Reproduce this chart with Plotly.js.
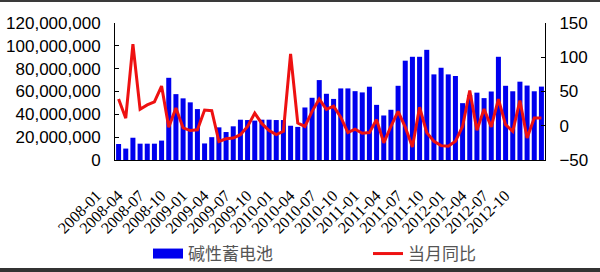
<!DOCTYPE html>
<html>
<head>
<meta charset="utf-8">
<script src="https://cdn.plot.ly/plotly-3.0.1.min.js"></script>
<style>
html,body{margin:0;padding:0;background:#fff;}
#wrap{position:relative;width:600px;height:272px;overflow:hidden;}
#chart{position:absolute;left:0;top:0;width:600px;height:272px;}
#bt{position:absolute;left:0;top:0;width:600px;height:2px;background:#3a3a3a;}
#bb{position:absolute;left:0;top:268px;width:600px;height:4px;background:#333;}
</style>
</head>
<body>
<div id="wrap"><div id="chart"></div><div id="bt"></div><div id="bb"></div></div>
<script>
var months = [
 "2008-01","2008-02","2008-03","2008-04","2008-05","2008-06","2008-07","2008-08","2008-09","2008-10","2008-11","2008-12",
 "2009-01","2009-02","2009-03","2009-04","2009-05","2009-06","2009-07","2009-08","2009-09","2009-10","2009-11","2009-12",
 "2010-01","2010-02","2010-03","2010-04","2010-05","2010-06","2010-07","2010-08","2010-09","2010-10","2010-11","2010-12",
 "2011-01","2011-02","2011-03","2011-04","2011-05","2011-06","2011-07","2011-08","2011-09","2011-10","2011-11","2011-12",
 "2012-01","2012-02","2012-03","2012-04","2012-05","2012-06","2012-07","2012-08","2012-09","2012-10","2012-11","2012-12"
];
var output = [
 14000000,10000000,19500000,14300000,14300000,14300000,17000000,72000000,57700000,54000000,50500000,44600000,
 14500000,20000000,28600000,24500000,29500000,35300000,35000000,34500000,35300000,35300000,35000000,35000000,
 30000000,29000000,46000000,54500000,70000000,58000000,53500000,62700000,62700000,60300000,59200000,64200000,
 48300000,39000000,44000000,65000000,87000000,90400000,90400000,96500000,75000000,80800000,75000000,73600000,
 49800000,57000000,59000000,54200000,60000000,90400000,65000000,60200000,68600000,65200000,60200000,64300000
];
var yoy = [
 39,11,119,24,30.5,35,58,-2,26,-3,-7,-6,
 23,22,-23,-19,-18,-13,-1,18.5,3,-7,-13,-8,
 105,4,-1,21,39,24,28.5,12.5,-10,-5,-11,-10,
 9,-25,-1,21,-2,-31,27,-10,-22.7,-29,-30,-22.7,
 -1,51.5,-6.7,24.3,-1.8,38.8,1.5,-8.2,36.8,-17.8,11.2,11.2
];
var barName = "碱性蓄电池";
var lineName = "当月同比";

var blue = "#0000ee", red = "#ee1111";

var traces = [
 {type:"bar", x:months, y:output, name:barName, marker:{color:blue}, showlegend:false, yaxis:"y"},
 {type:"scatter", mode:"lines", x:[null], y:[null], name:barName, line:{color:blue, width:10}, showlegend:true, yaxis:"y", legend:"legend"},
 {type:"scatter", mode:"lines", x:months, y:yoy, name:lineName, line:{color:red, width:3}, yaxis:"y2", showlegend:true, legend:"legend2"}
];

var legFont = {family:"Noto Sans CJK SC, sans-serif", size:17, color:"#555"};

var layout = {
 width:600, height:272,
 margin:{l:115, r:55, t:23, b:112, autoexpand:false},
 paper_bgcolor:"#fff", plot_bgcolor:"#fff",
 bargap:0.3,
 showlegend:true,
 font:{family:"Liberation Sans, Arial, sans-serif", size:17, color:"#000"},
 xaxis:{
  type:"category", range:[-0.5,59.5], dtick:3, tick0:0,
  tickangle:-45, showline:true, linecolor:"#000", linewidth:1,
  ticks:"", showgrid:false, zeroline:false,
  tickfont:{family:"Liberation Serif, serif", size:16, color:"#000"},
  ticklabelshift:-22, ticklabelstandoff:19, automargin:false
 },
 yaxis:{
  range:[0,120000000], dtick:20000000, tickformat:",d",
  showline:true, linecolor:"#000", linewidth:1,
  ticks:"inside", ticklen:4, tickcolor:"#000",
  showgrid:false, zeroline:false,
  tickfont:{family:"Liberation Sans, Arial, sans-serif", size:17, color:"#000"},
  ticklabelstandoff:10, automargin:false
 },
 yaxis2:{
  range:[-50,150], dtick:50, overlaying:"y", side:"right",
  showline:true, linecolor:"#000", linewidth:1,
  ticks:"inside", ticklen:4, tickcolor:"#000",
  showgrid:false, zeroline:false,
  tickfont:{family:"Liberation Sans, Arial, sans-serif", size:17, color:"#000"},
  ticklabelstandoff:10, automargin:false
 },
 legend:{
  orientation:"h", xref:"container", yref:"container",
  x:148/600, xanchor:"left", y:1-254/272, yanchor:"middle",
  font:legFont, bgcolor:"rgba(0,0,0,0)", borderwidth:0
 },
 legend2:{
  orientation:"h", xref:"container", yref:"container",
  x:368/600, xanchor:"left", y:1-254/272, yanchor:"middle",
  font:legFont, bgcolor:"rgba(0,0,0,0)", borderwidth:0
 }
};

Plotly.newPlot("chart", traces, layout, {displayModeBar:false, staticPlot:true});
</script>
</body>
</html>
